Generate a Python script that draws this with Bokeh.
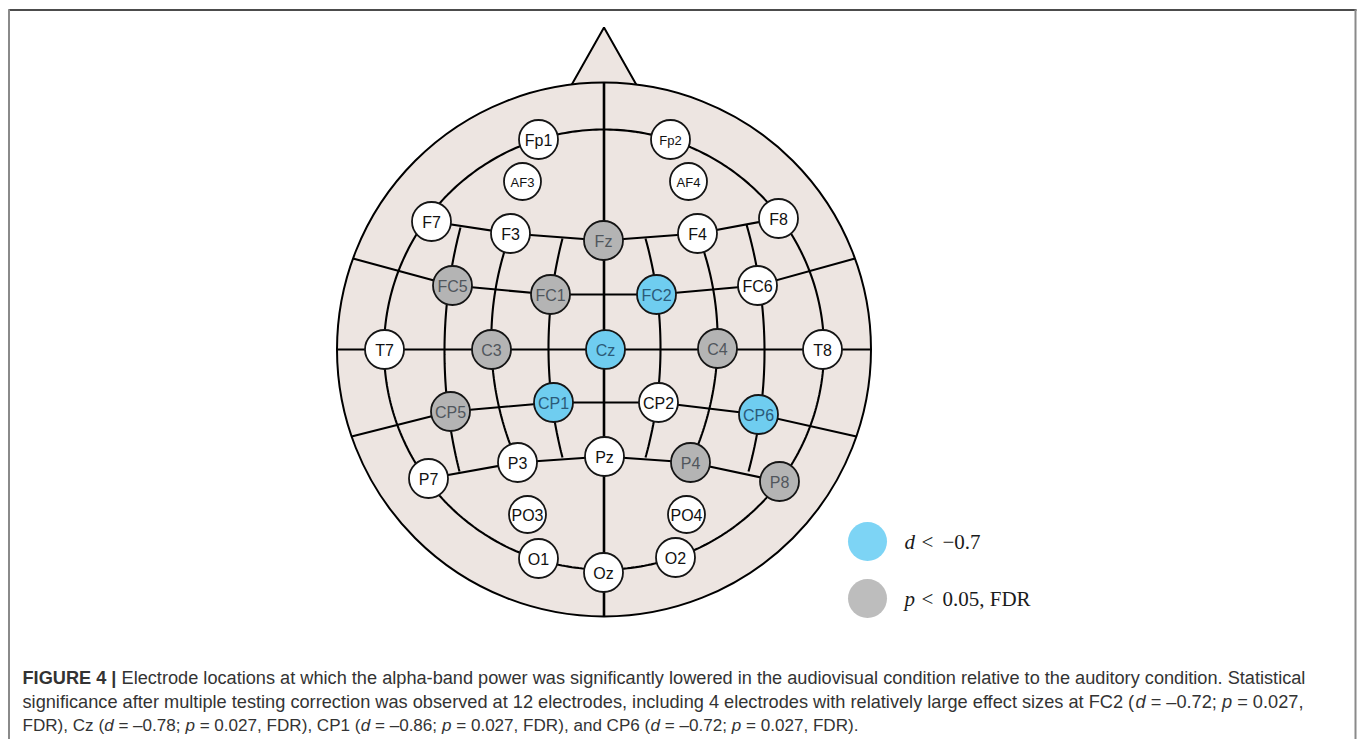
import numpy as np
from bokeh.plotting import figure
from bokeh.models import Range1d, ColumnDataSource
from bokeh.core.properties import value
from bokeh.embed import file_html
from bokeh.resources import INLINE

W, H = 1357, 739

# ---------------- data ----------------
names = ["Fp1", "Fp2", "AF3", "AF4", "F7", "F3", "Fz", "F4", "F8",
         "FC5", "FC1", "FC2", "FC6", "T7", "C3", "Cz", "C4", "T8",
         "CP5", "CP1", "CP2", "CP6", "P7", "P3", "Pz", "P4", "P8",
         "PO3", "PO4", "O1", "Oz", "O2"]
ex = [538, 670, 522, 688, 431, 510, 603, 697, 778,
      452, 550, 656, 757, 384, 491, 605, 717, 822,
      450, 553, 658, 758, 428, 517, 604, 690, 779,
      527, 686, 538, 603, 675]
ey = [139, 139, 181, 181, 221, 233, 240, 233, 218,
      285, 294, 294, 285, 349, 349, 349, 348, 349,
      411, 402, 402, 414, 478, 462, 456, 462, 481,
      514, 514, 558, 572, 557]
# "b": d < -0.7 (blue), "g": p < 0.05 FDR (grey), "n": not significant
status = ["n", "n", "n", "n", "n", "n", "g", "n", "n",
          "g", "g", "b", "n", "n", "g", "b", "g", "n",
          "g", "b", "n", "b", "n", "n", "n", "g", "g",
          "n", "n", "n", "n", "n"]

legend_labels = [("d", "<", "\u22120.7"), ("p", "<", "0.05, FDR")]
legend_status = ["b", "g"]

caption_lines = [
    [("FIGURE 4 |", "bold"),
     (" Electrode locations at which the alpha-band power was significantly lowered in the audiovisual condition relative to the auditory condition. Statistical", "normal")],
    [("significance after multiple testing correction was observed at 12 electrodes, including 4 electrodes with relatively large effect sizes at FC2 (", "normal"),
     ("d", "italic"), (" = \u20130.72; ", "normal"), ("p", "italic"), (" = 0.027,", "normal")],
    [("FDR), Cz (", "normal"), ("d", "italic"), (" = \u20130.78; ", "normal"), ("p", "italic"),
     (" = 0.027, FDR), CP1 (", "normal"), ("d", "italic"), (" = \u20130.86; ", "normal"), ("p", "italic"),
     (" = 0.027, FDR), and CP6 (", "normal"), ("d", "italic"), (" = \u20130.72; ", "normal"), ("p", "italic"),
     (" = 0.027, FDR).", "normal")],
]

# ---------------- styles ----------------
HEAD = "#ede5e1"
FILL = {"n": "#ffffff", "g": "#b4b4b4", "b": "#6fcdf0"}
TXT = {"n": "#111111", "g": "#50565c", "b": "#2b5a78"}
LEG = {"b": "#7dd4f5", "g": "#bdbdbd"}

p = figure(width=W, height=H, x_range=Range1d(0, W), y_range=Range1d(H, 0),
           output_backend="svg", toolbar_location=None,
           min_border=0, min_border_left=0, min_border_right=0,
           min_border_top=0, min_border_bottom=0)
p.axis.visible = False
p.grid.visible = False
p.outline_line_color = None
p.background_fill_color = "white"
p.border_fill_color = "white"

# frame of the figure panel
p.line([8, 1356], [9.5, 9.5], line_color="#111111", line_width=1.5)
p.line([8.5, 8.5], [9, H], line_color="#8a8a8a", line_width=2)
p.line([1355, 1355], [9, H], line_color="#8a8a8a", line_width=2)

cx, cy, R, r = 603.5, 349, 267, 220

# nose
apex = (603.5, 27)
p.patch([apex[0], apex[0] - 39, apex[0] + 39], [apex[1], 96, 96],
        fill_color=HEAD, line_color="black", line_width=2)
# head
p.circle([cx], [cy], radius=R, fill_color=HEAD, line_color="black", line_width=2)

LW = 2.1
# midline and horizontal line
p.line([cx, cx], [cy - R, cy + R], line_color="black", line_width=2.6)
p.line([cx - R, cx + R], [cy, cy], line_color="black", line_width=LW)
# inner ring
t = np.linspace(0, 2 * np.pi, 400)
p.line(cx + r * np.cos(t), cy + r * np.sin(t), line_color="black", line_width=LW)

pos = dict(zip(names, zip(ex, ey)))


def edge_point(yv, side):
    return (cx + side * np.sqrt(R ** 2 - (yv - cy) ** 2), yv)


def poly(pts):
    p.line([q[0] for q in pts], [q[1] for q in pts], line_color="black", line_width=LW)


poly([pos[n] for n in ["F7", "F3", "Fz", "F4", "F8"]])
poly([edge_point(258, -1)] + [pos[n] for n in ["FC5", "FC1", "FC2", "FC6"]] + [edge_point(258, 1)])
poly([edge_point(436, -1)] + [pos[n] for n in ["CP5", "CP1", "CP2", "CP6"]] + [edge_point(436, 1)])
poly([pos[n] for n in ["P7", "P3", "Pz", "P4", "P8"]])


def arc3(a, b, c):
    (x1, y1), (x2, y2), (x3, y3) = a, b, c
    d = 2 * (x1 * (y2 - y3) + x2 * (y3 - y1) + x3 * (y1 - y2))
    ux = ((x1 ** 2 + y1 ** 2) * (y2 - y3) + (x2 ** 2 + y2 ** 2) * (y3 - y1) + (x3 ** 2 + y3 ** 2) * (y1 - y2)) / d
    uy = ((x1 ** 2 + y1 ** 2) * (x3 - x2) + (x2 ** 2 + y2 ** 2) * (x1 - x3) + (x3 ** 2 + y3 ** 2) * (x2 - x1)) / d
    rr = np.hypot(x1 - ux, y1 - uy)
    ys = np.linspace(y1, y3, 80)
    sgn = np.sign(x2 - ux)
    xs = ux + sgn * np.sqrt(np.maximum(rr ** 2 - (ys - uy) ** 2, 0))
    p.line(xs, ys, line_color="black", line_width=LW)


# longitudinal arcs (upper end, crossing of C line, lower end)
arc3((460, 227), (444, 349), (459, 471))
arc3(pos["F3"], pos["C3"], pos["P3"])
arc3((562, 238), (548, 349), (562, 457))
arc3((645, 238), (660, 349), (645, 457))
arc3(pos["F4"], pos["C4"], pos["P4"])
arc3((746, 224), (764, 349), (748, 471))

# electrodes
src = ColumnDataSource(dict(
    x=ex, y=ey, name=names,
    fill=[FILL[s] for s in status],
    tc=[TXT[s] for s in status],
    fs=["13px" if n in ("Fp2", "AF3", "AF4") else "16px" for n in names],
    rad=[18.5 if n in ("AF3", "AF4", "PO3", "PO4") else 19.5 for n in names],
))
p.circle("x", "y", radius="rad", source=src, fill_color="fill",
         line_color="#151515", line_width=1.8)
p.text("x", "y", text="name", source=src, text_color="tc",
       text_font=value("Liberation Sans"), text_font_size="fs",
       text_align="center", text_baseline="middle", y_offset=1)

# legend
ly = [541, 598]
for (var, op, rest), st, yy in zip(legend_labels, legend_status, ly):
    p.circle([867], [yy], radius=19.5, fill_color=LEG[st], line_color=None)
    p.text([904], [yy], text=[var], text_font=value("Liberation Serif"),
           text_font_style="italic", text_font_size="21px",
           text_baseline="middle", text_align="left", text_color="#1a1a1a")
    p.text([921], [yy], text=[op], text_font=value("Liberation Serif"),
           text_font_size="21px", text_baseline="middle", text_align="left", text_color="#1a1a1a")
    p.text([942], [yy], text=[rest], text_font=value("Liberation Serif"),
           text_font_size="21px", text_baseline="middle", text_align="left", text_color="#1a1a1a")

# caption: place segments using Arial (Liberation Sans) advance widths
AR = {' ': 278, '(': 333, ')': 333, ',': 278, '-': 333, '.': 278, ';': 278, '=': 584,
      '|': 260, '\u2013': 556, ':': 278,
      'A': 667, 'B': 667, 'C': 722, 'D': 722, 'E': 667, 'F': 611, 'G': 778, 'H': 722,
      'I': 278, 'J': 500, 'K': 667, 'L': 556, 'M': 833, 'N': 722, 'O': 778, 'P': 667,
      'Q': 778, 'R': 722, 'S': 667, 'T': 611, 'U': 722, 'V': 667, 'W': 944, 'X': 667,
      'Y': 667, 'Z': 611,
      'a': 556, 'b': 556, 'c': 500, 'd': 556, 'e': 556, 'f': 278, 'g': 556, 'h': 556,
      'i': 222, 'j': 222, 'k': 500, 'l': 222, 'm': 833, 'n': 556, 'o': 556, 'p': 556,
      'q': 556, 'r': 333, 's': 500, 't': 278, 'u': 556, 'v': 500, 'w': 722, 'x': 500,
      'y': 500, 'z': 500}
ARB = {' ': 278, '|': 280, 'F': 611, 'I': 278, 'G': 778, 'U': 722, 'R': 722, 'E': 667}


def tw(s, bold=False):
    tot = 0
    for ch in s:
        if bold and ch in ARB:
            tot += ARB[ch]
        else:
            tot += AR.get(ch, 556)
    return tot / 1000.0


x0 = 22
line_ends = [1305, 1303, 858]
baselines = [677, 701, 725]
for segs, by, xe in zip(caption_lines, baselines, line_ends):
    fs = (xe - x0) / sum(tw(s, st == "bold") for s, st in segs)
    x = x0
    for s, st in segs:
        lead = len(s) - len(s.lstrip(" "))
        core = s.strip(" ")
        xs = x + tw(" " * lead) * fs
        p.text([xs], [by], text=[core], text_font=value("Liberation Sans"),
               text_font_size="%.2fpx" % fs,
               text_font_style=("bold" if st == "bold" else ("italic" if st == "italic" else "normal")),
               text_baseline="alphabetic", text_align="left", text_color="#333333")
        x += tw(s, st == "bold") * fs

open("out.html", "w").write(file_html(p, INLINE))
